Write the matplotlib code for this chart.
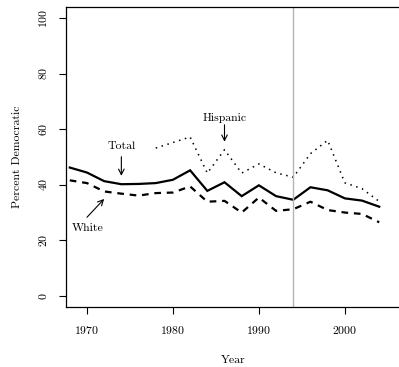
import numpy as np
import matplotlib.pyplot as plt

plt.rcParams['font.family'] = 'cmr10'
plt.rcParams['axes.formatter.use_mathtext'] = True

# Share of the vote going to Democrats, by group, biennial elections
years = list(range(1968, 2005, 2))
total = [46.2, 44.4, 41.3, 40.2, 40.3, 40.6, 41.8, 45.2, 37.8, 40.9,
         35.9, 39.8, 35.9, 34.6, 39.1, 38.0, 35.1, 34.3, 32.1]
white = [41.6, 40.6, 37.6, 36.8, 36.1, 37.0, 37.2, 39.4, 33.9, 34.2,
         30.0, 35.4, 30.6, 31.2, 33.9, 30.9, 30.0, 29.5, 26.5]
hisp_years = list(range(1978, 2005, 2))
hispanic = [53.2, 55.2, 57.2, 44.2, 52.6, 44.2, 47.5, 44.3, 42.7,
            51.2, 56.0, 40.7, 38.6, 34.0]

fig = plt.figure(figsize=(3.99, 3.67), dpi=100)
ax = fig.add_axes([0.1654, 0.1635, 0.8376, 0.8175])

ax.plot(years, total, color='black', lw=1.6, solid_joinstyle='miter')
ax.plot(years, white, color='black', lw=1.6, linestyle=(0, (3, 2.6)))
ax.plot(hisp_years, hispanic, color='black', lw=1.1, linestyle=(0, (1, 3)))
ax.axvline(1994, color='#b4b4b4', lw=1.0)

ax.set_xlim(1967.56, 2006.44)
ax.set_ylim(-4, 104)
ax.set_xticks([1970, 1980, 1990, 2000])
ax.set_yticks([0, 20, 40, 60, 80, 100])
ax.tick_params(direction='out', length=5, width=0.8, labelsize=8.5, pad=7,
               colors='black')
for lab in ax.get_yticklabels():
    lab.set_rotation(90)
    lab.set_va('center')
for s in ax.spines.values():
    s.set_linewidth(0.9)

ax.set_xlabel('Year', fontsize=8.5, labelpad=14)
ax.set_ylabel('Percent Democratic', fontsize=8.5, labelpad=11)

arrow = dict(arrowstyle='->', lw=0.8, color='black', shrinkA=0, shrinkB=0,
             mutation_scale=10)
ax.text(1986, 64.2, 'Hispanic', ha='center', va='center', fontsize=8.5)
ax.annotate('', xy=(1986, 55.5), xytext=(1986, 61.6), arrowprops=arrow)
ax.text(1974, 54.0, 'Total', ha='center', va='center', fontsize=8.5)
ax.annotate('', xy=(1974, 43.2), xytext=(1974, 50.1), arrowprops=arrow)
ax.text(1970.1, 24.4, 'White', ha='center', va='center', fontsize=8.5)
ax.annotate('', xy=(1972.0, 34.9), xytext=(1970.0, 28.3), arrowprops=arrow)

fig.savefig('out.png', dpi=100)
